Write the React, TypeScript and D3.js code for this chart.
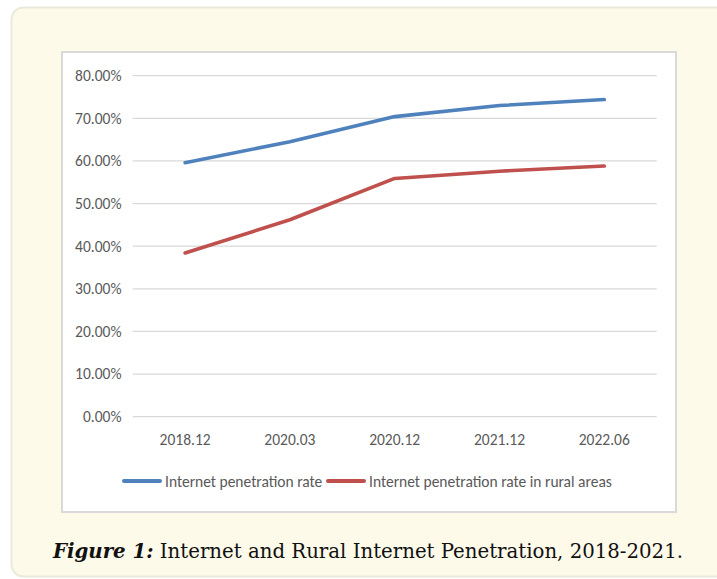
import React from "react";
import * as d3 from "d3";

const categories = ["2018.12", "2020.03", "2020.12", "2021.12", "2022.06"];
const overallRate = [59.6, 64.5, 70.4, 73.0, 74.4];
const ruralRate = [38.4, 46.2, 55.9, 57.6, 58.8];
const yTicks = [0, 10, 20, 30, 40, 50, 60, 70, 80];
const seriesNames = ["Internet penetration rate", "Internet penetration rate in rural areas"];
const seriesColors = ["#4F81BD", "#C0504D"];

const W = 717;
const H = 579;
const FONT = "Carlito, Calibri, 'Open Sans', 'Liberation Sans', sans-serif";

export default function App() {
  const plotLeft = 132.7;
  const plotRight = 656.7;
  const y = d3.scaleLinear().domain([0, 80]).range([416.7, 75.7]);
  const x = d3.scalePoint<string>().domain(categories).range([plotLeft, plotRight]).padding(0.5);
  const line = d3
    .line<number>()
    .x((_, i) => x(categories[i]) as number)
    .y((d) => y(d));
  const series = [overallRate, ruralRate];

  return (
    <svg width={W} height={H} style={{ position: "absolute", left: 0, top: 0 }} fontFamily={FONT}>
      <rect x={0} y={0} width={W} height={H} fill="#ffffff" />
      <rect x={11.5} y={7.5} width={W + 20} height={569} rx={12} fill="#fefaea" stroke="#ebe8dc" strokeWidth={2} />
      <rect x={62} y={52} width={614} height={460} fill="#ffffff" stroke="#d9d9d9" strokeWidth={2} />
      {yTicks.map((t) => (
        <g key={t}>
          <line x1={plotLeft} x2={plotRight} y1={y(t)} y2={y(t)} stroke="#d9d9d9" strokeWidth={1.3} />
          <text x={121.5} y={y(t) + 5.3} textAnchor="end" fontSize={15.5} fill="#595959">
            {t.toFixed(2) + "%"}
          </text>
        </g>
      ))}
      {categories.map((c) => (
        <text key={c} x={x(c)} y={445} textAnchor="middle" fontSize={15.5} fill="#595959">
          {c}
        </text>
      ))}
      {series.map((s, i) => (
        <path key={i} d={line(s) || ""} fill="none" stroke={seriesColors[i]} strokeWidth={3.6} strokeLinecap="round" strokeLinejoin="round" />
      ))}
      <g>
        <line x1={124} x2={160} y1={481} y2={481} stroke={seriesColors[0]} strokeWidth={4} strokeLinecap="round" />
        <text x={165} y={486.5} fontSize={15.5} fill="#595959">{seriesNames[0]}</text>
        <line x1={328} x2={364} y1={481} y2={481} stroke={seriesColors[1]} strokeWidth={4} strokeLinecap="round" />
        <text x={369} y={486.5} fontSize={15.5} fill="#595959">{seriesNames[1]}</text>
      </g>
      <text x={53} y={558} fontSize={21} fill="#111" textLength={630} lengthAdjust="spacingAndGlyphs" fontFamily="'DejaVu Serif Condensed', 'Liberation Serif', serif">
        <tspan fontWeight="bold" fontStyle="italic">Figure 1:</tspan>
        <tspan> Internet and Rural Internet Penetration, 2018-2021.</tspan>
      </text>
    </svg>
  );
}
